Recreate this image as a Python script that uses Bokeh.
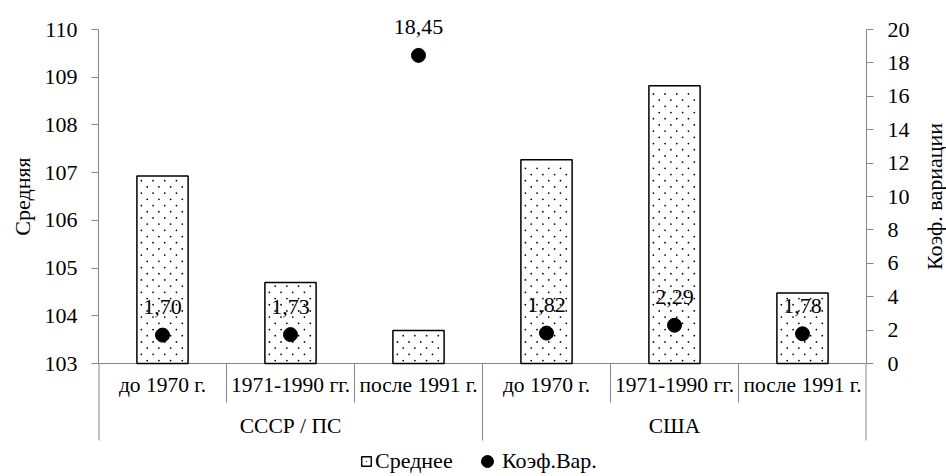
import math
from bokeh.plotting import figure
from bokeh.layouts import row
from bokeh.models import (Range1d, LinearAxis, FixedTicker, ColumnDataSource,
                          LabelSet, Legend, LegendItem)
from bokeh.core.properties import value
from bokeh.embed import file_html
from bokeh.resources import INLINE

# ---- data ----
groups = ["СССР / ПС", "США"]
periods = ["до 1970 г.", "1971-1990 гг.", "после 1991 г."]
mean_values = [106.93, 104.70, 103.69, 107.27, 108.82, 104.48]
cv_values = [1.70, 1.73, 18.45, 1.82, 2.29, 1.78]
left_ticks = [103, 104, 105, 106, 107, 108, 109, 110]
right_ticks = [0, 2, 4, 6, 8, 10, 12, 14, 16, 18, 20]
left_title = "Средняя"
right_title = "Коэф. вариации"
legend_labels = ["Среднее", "Коэф.Вар."]

# ---- layout constants (pixels) ----
FONT = "Liberation Serif"
W, H = 946, 476
FW = 768                      # plot frame width
ML, MT = 98, 8                # frame left edge, frame top
LW, RW = 40, 24               # strips holding the axis titles
AX_TOP, AX_BOT = 21, 113      # frame padding above top tick / below bottom tick
FH = H - MT
axis_px = FH - AX_TOP - AX_BOT
AXC = "#868686"
BAR_W = 0.4

y0, y1 = left_ticks[0], left_ticks[-1]
c0, c1 = right_ticks[0], right_ticks[-1]
ppu = axis_px / (y1 - y0)
ppu_c = axis_px / (c1 - c0)

n = len(groups) * len(periods)
px_x = FW / n
xs = [i + 0.5 for i in range(n)]
cats = [per for g in groups for per in periods]
xr = Range1d(0, n)
yr = Range1d(y0 - AX_BOT / ppu, y1 + AX_TOP / ppu)
cv_range = Range1d(c0 - AX_BOT / ppu_c, c1 + AX_TOP / ppu_c)

# dotted fill of the bars (staggered dot lattice, in pixel steps)
DOT_DX, DOT_DY = 11.7, 6.2
dot_x, dot_y = [], []
for x, top in zip(xs, mean_values):
    left = x - BAR_W / 2
    h_px = (top - y0) * ppu
    w_px = BAR_W * px_x
    k, yy = 0, 3.0
    while yy < h_px - 3:
        xx = 10.3 if k % 2 == 0 else 4.45
        while xx < w_px - 2:
            dot_x.append(left + xx / px_x)
            dot_y.append(y0 + yy / ppu)
            xx += DOT_DX
        k += 1
        yy += DOT_DY

def strip(width, y_range):
    f = figure(frame_width=width, frame_height=FH, x_range=Range1d(0, width),
               y_range=y_range, output_backend="svg", toolbar_location=None,
               x_axis_location=None, y_axis_location=None, min_border_left=0,
               min_border_right=0, min_border_top=MT, min_border_bottom=0,
               outline_line_color=None)
    f.grid.visible = False
    return f

p = figure(frame_width=FW, frame_height=FH, x_range=xr, y_range=yr,
           output_backend="svg", toolbar_location=None, x_axis_location=None,
           min_border_left=ML - LW, min_border_right=W - ML - FW - RW,
           min_border_top=MT, min_border_bottom=0, outline_line_color=None)
p.grid.visible = False
p.extra_y_ranges = {"cv": cv_range}

ya = p.yaxis[0]
ya.ticker = FixedTicker(ticks=left_ticks)
ya.bounds = (y0, y1)
ra = LinearAxis(y_range_name="cv", ticker=FixedTicker(ticks=right_ticks),
                bounds=(c0, c1))
p.add_layout(ra, "right")
for ax in (ya, ra):
    ax.axis_line_color = AXC
    ax.major_tick_line_color = AXC
    ax.minor_tick_line_color = None
    ax.major_tick_out = 7
    ax.major_tick_in = 0
    ax.major_label_standoff = 14
    ax.major_label_text_font = FONT
    ax.major_label_text_font_size = "22px"
    ax.major_label_text_color = "black"

src = ColumnDataSource(dict(x=xs, mean=mean_values, cv=cv_values, cat=cats,
                            label=[f"{v:.2f}".replace(".", ",") for v in cv_values]))

# category axis: baseline, separators, labels
p.segment(x0=[0], y0=[y0], x1=[n], y1=[y0], line_color=AXC, line_width=1)
bx = list(range(n + 1))
blen = [77 if b % len(periods) == 0 else 39 for b in bx]
bw = [2 if b in (0, n) else 1 for b in bx]
sep = ColumnDataSource(dict(x=bx, w=bw, s0=[y0] * len(bx),
                            s1=[y0 - L / ppu for L in blen]))
p.segment(x0="x", y0="s0", x1="x", y1="s1", source=sep, line_color=AXC,
          line_width="w")
p.text(x="x", y=y0 - 21 / ppu, text="cat", source=src, text_align="center",
       text_baseline="middle", text_font=value(FONT), text_font_size="21.5px",
       text_color="black")
gsrc = ColumnDataSource(dict(
    x=[sum(xs[i * len(periods):(i + 1) * len(periods)]) / len(periods)
       for i in range(len(groups))],
    g=groups))
p.text(x="x", y=y0 - 62 / ppu, text="g", source=gsrc, text_align="center",
       text_baseline="middle", text_font=value(FONT), text_font_size="21.5px",
       text_color="black")

bars = p.vbar(x="x", top="mean", bottom=y0, width=BAR_W, source=src,
              fill_color="white", line_color="black", line_width=1.5)
dots = p.scatter(x=dot_x, y=dot_y, marker="dot", size=7, fill_color="black",
                 line_color="black")
pts = p.scatter(x="x", y="cv", y_range_name="cv", source=src, size=14,
                marker="circle", fill_color="black", line_color="black")
p.add_layout(LabelSet(x="x", y="cv", text="label", y_range_name="cv", source=src,
                      text_align="center", text_baseline="alphabetic",
                      y_offset=21, text_font=FONT, text_font_size="22px",
                      text_color="black"))

common = dict(orientation="horizontal", padding=0, margin=0,
              border_line_color=None, background_fill_alpha=0,
              label_text_font=FONT, label_text_font_size="22px",
              label_text_color="black", label_height=20)
leg1 = Legend(items=[LegendItem(label=legend_labels[0], renderers=[bars, dots])],
              location=(262, 2), glyph_width=12, glyph_height=12,
              label_standoff=3, **common)
leg2 = Legend(items=[LegendItem(label=legend_labels[1], renderers=[pts])],
              location=(374, 0), glyph_width=30, glyph_height=30,
              label_standoff=-6, **common)
p.add_layout(leg1)
p.add_layout(leg2)

# axis titles (centred on each axis' value range)
lt = strip(LW, yr)
lt.text(x=[22], y=[(y0 + y1) / 2], text=[left_title], angle=math.pi / 2,
        text_align="center", text_baseline="middle", text_font=value(FONT),
        text_font_size="22px", text_color="black")
rt = strip(RW, cv_range)
rt.text(x=[RW / 2], y=[(c0 + c1) / 2], text=[right_title], angle=math.pi / 2,
        text_align="center", text_baseline="middle", text_font=value(FONT),
        text_font_size="22px", text_color="black")

layout = row(lt, p, rt, spacing=0)
open("out.html", "w").write(file_html(layout, INLINE))
